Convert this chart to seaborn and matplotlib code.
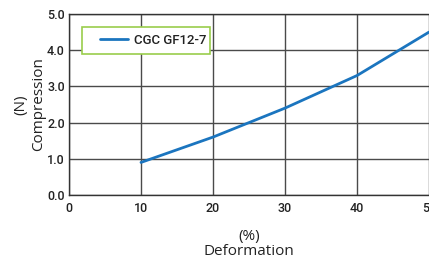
import matplotlib
matplotlib.use("Agg")
import matplotlib.pyplot as plt
from matplotlib.patches import Rectangle
import seaborn as sns
import pandas as pd

deformation = [10, 20, 30, 40, 50]
compression = [0.9, 1.6, 2.4, 3.3, 4.5]
series_name = "CGC GF12-7"
x_ticks = [0, 10, 20, 30, 40, 50]
y_ticks = [0.0, 1.0, 2.0, 3.0, 4.0, 5.0]

df = pd.DataFrame({"Deformation": deformation, "Compression": compression, "series": series_name})

sns.set_style("white")
plt.rcParams["font.family"] = ["Roboto", "DejaVu Sans"]

W, H = 429, 264
fig = plt.figure(figsize=(W/100, H/100), dpi=100)
ax = fig.add_axes([69/W, 1 - 195/H, 1 - 69/W, (195 - 14)/H])

sns.lineplot(data=df, x="Deformation", y="Compression", hue="series",
             palette=["#1b75bf"], linewidth=2.0, ax=ax)

ax.set_xlim(0, 50)
ax.set_ylim(0, 5)
ax.set_xticks(x_ticks)
ax.set_yticks(y_ticks)
ax.set_xticklabels([str(v) for v in x_ticks], fontsize=9, color="#222222", fontweight="medium")
ax.set_yticklabels([f"{v:.1f}" for v in y_ticks], fontsize=9, color="#222222", fontweight="medium")
ax.tick_params(axis="both", length=0, pad=3)
ax.tick_params(axis="x", pad=5)
ax.grid(True, color="#4a4a4a", linewidth=1.0)
ax.set_axisbelow(True)
for s in ["left", "bottom", "top"]:
    ax.spines[s].set_color("#333333")
    ax.spines[s].set_linewidth(1.0)
ax.spines["right"].set_visible(False)

ax.set_xlabel("(%)\nDeformation", fontsize=11, color="#222222", family=["Open Sans", "DejaVu Sans"], linespacing=1.05, labelpad=10)
ax.set_ylabel("(N)\nCompression", fontsize=11, color="#222222", family=["Open Sans", "DejaVu Sans"], linespacing=1.25, labelpad=1)

# legend frame drawn as a pixel-placed rectangle
frame = Rectangle((82/W, 1 - 54/H), (210 - 82)/W, 27/H, transform=fig.transFigure,
                  facecolor="white", edgecolor="#9acd4c", linewidth=1.2, zorder=5, clip_on=False)
ax.add_patch(frame)
leg = ax.legend(loc="center left", bbox_to_anchor=((100 - 69)/(W - 69), 1 - (40.5 - 14)/(195 - 14)),
                frameon=False, fontsize=9.5, handlelength=2.1, handletextpad=0.5,
                borderpad=0, borderaxespad=0)
leg.set_zorder(6)
for t in leg.get_texts():
    t.set_fontweight("medium")
    t.set_color("#222222")

fig.savefig("out.png", dpi=100)
